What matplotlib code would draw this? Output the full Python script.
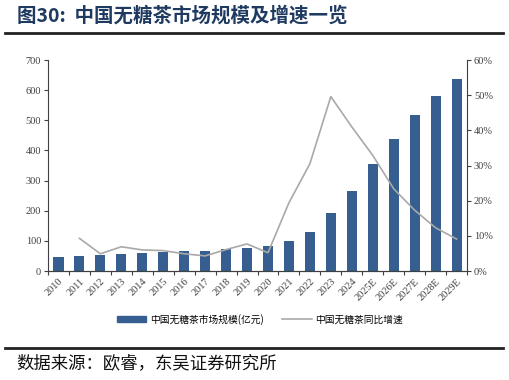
import matplotlib.pyplot as plt
import numpy as np
from matplotlib.lines import Line2D
from matplotlib.patches import Patch

# data
years = ['2010', '2011', '2012', '2013', '2014', '2015', '2016', '2017', '2018', '2019',
         '2020', '2021', '2022', '2023', '2024', '2025E', '2026E', '2027E', '2028E', '2029E']
market_size = [45, 50, 52, 55, 60, 64, 66, 67, 73, 78,
               82, 98, 128, 191, 267, 356, 439, 517, 582, 636]
growth = [np.nan, 9.3, 4.9, 6.9, 6.0, 5.8, 4.9, 4.3, 6.1, 7.7,
          5.2, 19.4, 30.5, 49.6, 41.0, 32.9, 23.4, 17.3, 12.3, 9.1]

bar_color = '#365E90'
line_color = '#A9A9A9'
title_color = '#1F3A60'
cjk = ['Noto Sans CJK SC', 'DejaVu Sans']
serif = ['Liberation Serif', 'DejaVu Serif']

fig = plt.figure(figsize=(5.09, 3.80), dpi=100)
ax = fig.add_axes([0.0943, 0.2868, 0.8232, 0.5552])
x = np.arange(len(years))
ax.bar(x, market_size, width=0.48, color=bar_color, zorder=2)
ax.set_xlim(-0.5, len(years) - 0.5)
ax.set_ylim(0, 700)
ax.set_yticks(range(0, 701, 100))

ax2 = ax.twinx()
ax2.plot(x, growth, color=line_color, lw=1.2, zorder=3)
ax2.set_ylim(0, 60)
ax2.set_yticks(range(0, 61, 10))
ax2.set_yticklabels([f'{v}%' for v in range(0, 61, 10)])

for a in (ax, ax2):
    a.spines['top'].set_visible(False)
    for s in a.spines.values():
        s.set_color('#404040')
        s.set_linewidth(0.8)
    a.tick_params(axis='y', length=3, width=0.8, color='#404040', labelsize=7.5, pad=2)
    for lab in a.get_yticklabels():
        lab.set_family(serif)
        lab.set_color('#404040')
ax.spines['right'].set_visible(False)
ax2.spines['left'].set_visible(False)

ax.set_xticks(x)
ax.set_xticklabels(years, rotation=45, ha='right', rotation_mode='anchor',
                   family=serif, fontsize=7.5, color='#404040')
ax.tick_params(axis='x', which='major', length=0, pad=4)
ax.set_xticks(np.arange(-0.5, len(years), 1.0), minor=True)
ax.tick_params(axis='x', which='minor', length=3, width=0.8, color='#404040')

handles = [Patch(color=bar_color), Line2D([], [], color=line_color, lw=1.2)]
fig.legend(handles, ['中国无糖茶市场规模(亿元)', '中国无糖茶同比增速'],
           loc='center', bbox_to_anchor=(0.511, 0.16), ncol=2, frameon=False,
           prop={'family': cjk, 'size': 7}, handlelength=3.0, handleheight=0.6,
           columnspacing=1.9, handletextpad=0.4)

fig.text(0.033, 0.96, '图30:  中国无糖茶市场规模及增速一览', family=cjk,
         fontsize=14, fontweight='bold', color=title_color, va='center', ha='left')
fig.add_artist(Line2D([0.01, 0.988], [0.913, 0.913], color='#222222', lw=2))
fig.add_artist(Line2D([0.01, 0.988], [0.084, 0.084], color='#222222', lw=2))
fig.text(0.033, 0.045, '数据来源：欧睿，东吴证券研究所', family=cjk,
         fontsize=12.5, color='#111111', va='center', ha='left')

fig.savefig('out.png', dpi=100)
